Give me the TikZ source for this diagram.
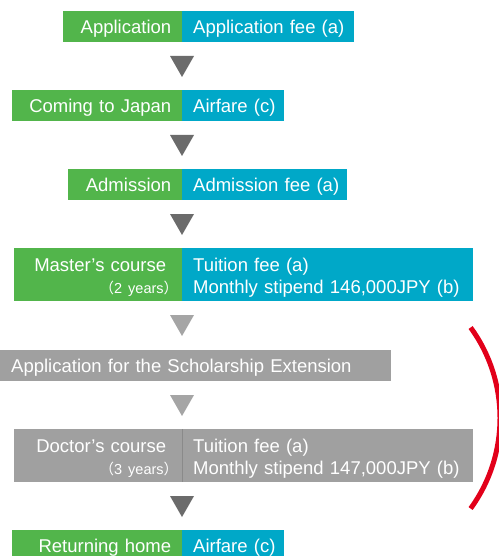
\documentclass[tikz,border=0pt]{standalone}
\usepackage{fontspec}
\setmainfont{Liberation Sans}
\newfontfamily\cjk{Noto Sans CJK JP}
\definecolor{cgreen}{HTML}{52B54B}
\definecolor{cblue}{HTML}{00A8C8}
\definecolor{cgray}{HTML}{A0A0A0}
\definecolor{cdiv}{HTML}{8A8A8A}
\definecolor{cdark}{HTML}{6B6B6B}
\definecolor{clight}{HTML}{A5A5A5}
\definecolor{cred}{HTML}{E2001A}
\newcommand{\lpad}{\hspace*{11pt}}
\begin{document}
\begin{tikzpicture}[x=1pt,y=-1pt,
  base/.style={anchor=north west, inner ysep=0pt, text=white, text depth=0pt,
    font=\fontsize{18.5}{22}\selectfont, minimum height=31pt},
  twoline/.style={minimum height=53pt, text depth=20pt},
  gcell/.style={base, inner xsep=11pt, fill=cgreen, align=right},
  bcell/.style={base, inner xsep=0pt, fill=cblue, align=left},
  ycell/.style={base, inner xsep=0pt, fill=cgray, align=left},
  ycellr/.style={base, inner xsep=11pt, fill=cgray, align=right},
  darktri/.style={fill=cdark},
  lighttri/.style={fill=clight}
]
\useasboundingbox (0,0) rectangle (498,556);

% row 1
\node[gcell, text width=97pt] (g1) at (63,11) {Application};
\node[bcell, text width=172pt] (b1) at (182,11) {\lpad Application fee (a)};
% row 2
\node[gcell, text width=148pt] (g2) at (12,90) {Coming to Japan};
\node[bcell, text width=102pt] (b2) at (182,90) {\lpad Airfare (c)};
% row 3
\node[gcell, text width=92pt] (g3) at (68,169) {Admission};
\node[bcell, text width=165pt] (b3) at (182,169) {\lpad Admission fee (a)};
% row 4
\node[gcell, twoline, text width=146pt] (g4) at (14,248)
  {Master’s course\kern5pt\\{\fontsize{14.5}{22}\selectfont{\cjk （}2 years{\cjk ）}\kern-7pt}};
\node[bcell, twoline, text width=291pt] (b4) at (182,248)
  {\lpad Tuition fee (a)\\\lpad Monthly stipend 146,000JPY (b)};
% row 5
\node[ycell, text width=391pt] (y5) at (0,350) {\lpad Application for the Scholarship Extension};
% row 6
\node[ycellr, twoline, text width=146pt] (g6) at (14,429)
  {Doctor’s course\kern5pt\\{\fontsize{14.5}{22}\selectfont{\cjk （}3 years{\cjk ）}\kern-7pt}};
\node[ycell, twoline, text width=291pt] (b6) at (182,429)
  {\lpad Tuition fee (a)\\\lpad Monthly stipend 147,000JPY (b)};
\draw[cdiv, line width=1.2pt] (g6.north east) -- (g6.south east);
% row 7
\node[gcell, text width=148pt] (g7) at (12,530) {Returning home};
\node[bcell, text width=102pt] (b7) at (182,530) {\lpad Airfare (c)};

% triangles
\fill[darktri] (170,56) -- (194,56) -- (182,77) -- cycle;
\fill[darktri] (170,135) -- (194,135) -- (182,156) -- cycle;
\fill[darktri] (170,214) -- (194,214) -- (182,235) -- cycle;
\fill[lighttri] (170,315) -- (194,315) -- (182,336) -- cycle;
\fill[lighttri] (170,395) -- (194,395) -- (182,416) -- cycle;
\fill[darktri] (170,496) -- (194,496) -- (182,517) -- cycle;

% red bracket
\draw[cred, line width=5pt] (470.6,327.5) arc[start angle=-36, end angle=36, radius=154];
\end{tikzpicture}
\end{document}
